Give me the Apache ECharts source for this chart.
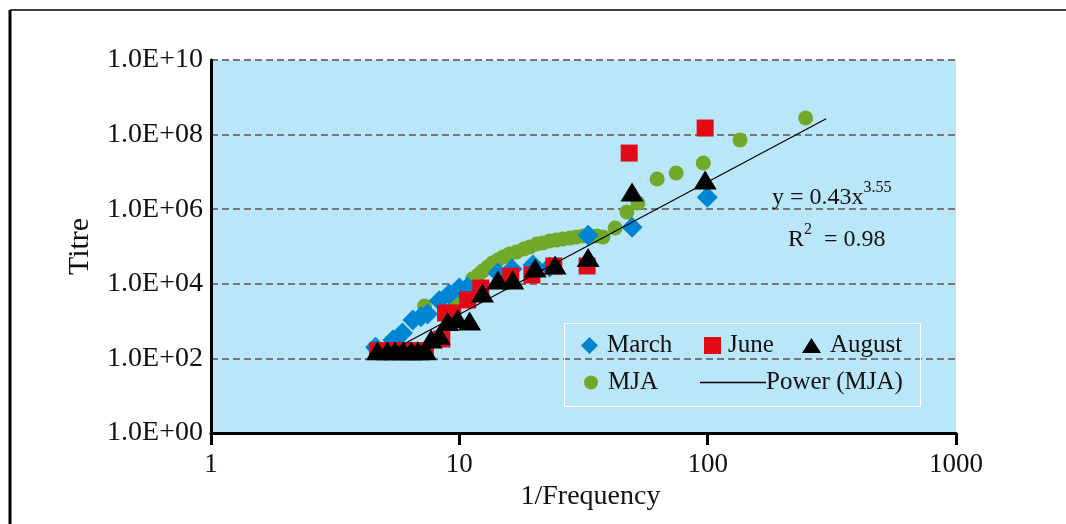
<!DOCTYPE html>
<html>
<head>
<meta charset="utf-8">
<script src="https://cdn.jsdelivr.net/npm/echarts@6/dist/echarts.min.js"></script>
<style>
  html, body { margin: 0; padding: 0; background: #ffffff; }
  #chart { width: 1066px; height: 524px; }
</style>
</head>
<body>
<div id="chart"></div>
<script>
// Titre against 1/Frequency for three sampling months and the pooled set
const marchFreq  = [4.6, 5.4, 5.9, 6.5, 7.0, 7.45, 8.3, 9.1, 10.0, 10.8, 14.3, 16.3, 19.8, 23.1, 33, 49.6, 99.6];
const marchTitre = [200, 310, 480, 1070, 1300, 1550, 3500, 5300, 7700, 8100, 19500, 25000, 32000, 28000, 200000, 330000, 2100000];

const juneFreq  = [4.68, 5.1, 5.4, 5.85, 6.3, 6.8, 7.3, 8.5, 8.8, 9.4, 10.8, 12.2, 16.1, 19.6, 24, 32.7, 48.3, 97.7];
const juneTitre = [160, 160, 160, 160, 160, 160, 160, 330, 1650, 1650, 3700, 7700, 16000, 17200, 30000, 30000, 32000000, 150000000];

const augustFreq  = [4.68, 5.13, 5.5, 5.95, 6.4, 6.8, 7.3, 7.7, 8.3, 8.97, 9.85, 11.0, 12.4, 14.3, 16.4, 20.2, 24.3, 33, 49.6, 97.7];
const augustTitre = [160, 160, 160, 160, 160, 160, 160, 330, 420, 980, 1150, 1000, 5700, 12600, 12600, 26500, 31900, 51000, 2900000, 6100000];

const mjaFreq  = [7.24, 9.6, 11.3, 11.9, 12.4, 13.0, 13.6, 14.3, 15.0, 15.9, 17.0, 18.2, 19.2, 20.5, 21.7, 23.1, 24.6, 26.1, 27.9, 29.6, 31.5, 33.6, 35.9, 37.9, 42.4, 47.3, 52.4, 62.6, 74.7, 96, 135, 248];
const mjaTitre = [2540, 3250, 13400, 17200, 22000, 28200, 36100, 43400, 52300, 63000, 71200, 85700, 97000, 117000, 124000, 140000, 149000, 159000, 169000, 180000, 191000, 191000, 191000, 180000, 313000, 841000, 1470000, 6450000, 9350000, 17300000, 71600000, 279000000];

// Power trend fitted to MJA: y = a * x^b
const fitA = 0.43;
const fitB = 3.55;
const fitR2 = 0.98;
const fitRange = [4.6, 300];

const xTicks = [1, 10, 100, 1000];
const yTickLabels = ['1.0E+00', '1.0E+02', '1.0E+04', '1.0E+06', '1.0E+08', '1.0E+10'];

const pairs = (xs, ys) => xs.map((x, i) => [x, ys[i]]);
const fitLine = fitRange.map(x => [x, fitA * Math.pow(x, fitB)]);

const SERIF = '"Liberation Serif", "DejaVu Serif", serif';
const C_BLUE = '#0085d4';
const C_RED = '#e30a17';
const C_GREEN = '#72a928';
const C_BLACK = '#000000';

const legendText = { fontFamily: SERIF, fontSize: 25, color: '#111111' };
function legendFor(name, icon, left, top, w, h, pad) {
  return {
    data: [{ name: name, icon: icon }],
    left: left, top: top,
    itemWidth: w, itemHeight: h,
    padding: 0,
    selectedMode: false,
    symbolKeepAspect: false,
    textStyle: Object.assign({ padding: [0, 0, 0, pad] }, legendText)
  };
}

const eqRich = {
  m: { fontFamily: SERIF, fontSize: 24, fill: '#111111', lineHeight: 30, verticalAlign: 'bottom' },
  s: { fontFamily: SERIF, fontSize: 16, fill: '#111111', lineHeight: 10, verticalAlign: 'top' }
};

const chart = echarts.init(document.getElementById('chart'), null, { renderer: 'canvas' });

chart.setOption({
  animation: false,
  backgroundColor: '#ffffff',
  grid: {
    left: 211, right: 110, top: 60, bottom: 91,
    show: true, backgroundColor: '#b9e6f9', borderWidth: 0
  },
  xAxis: {
    type: 'log', logBase: 10, min: 1, max: 1000, interval: 1,
    name: '1/Frequency', nameLocation: 'middle', nameGap: 42,
    nameTextStyle: { fontFamily: SERIF, fontSize: 28, color: '#111111', padding: [0, 0, 0, 14] },
    axisLine: { lineStyle: { color: C_BLACK, width: 3 } },
    axisTick: { show: true, inside: false, length: 12, lineStyle: { color: C_BLACK, width: 3 } },
    minorTick: { show: false },
    splitLine: { show: false },
    axisLabel: {
      fontFamily: SERIF, fontSize: 27, color: '#111111', margin: 18,
      formatter: v => String(xTicks.reduce((b, t) => Math.abs(t - v) < Math.abs(b - v) ? t : b, xTicks[0]))
    }
  },
  yAxis: {
    type: 'log', logBase: 10, min: 1, max: 1e10, interval: 2,
    name: 'Titre', nameLocation: 'middle', nameGap: 116, nameRotate: 90,
    nameTextStyle: { fontFamily: SERIF, fontSize: 30, color: '#111111' },
    axisLine: { lineStyle: { color: C_BLACK, width: 3 } },
    axisTick: { show: false },
    splitLine: { show: true, lineStyle: { color: '#777777', width: 2, type: [7, 4] } },
    axisLabel: {
      fontFamily: SERIF, fontSize: 28, color: '#111111', margin: 8,
      formatter: v => yTickLabels[Math.round(Math.log10(v) / 2)] || ''
    }
  },
  legend: [
    legendFor('March', 'diamond', 581, 333, 17, 17, 4),
    legendFor('June', 'rect', 704, 333, 17, 17, 2),
    legendFor('August', 'triangle', 802, 333, 19, 15, 4),
    legendFor('MJA', 'circle', 584, 370, 14, 14, 5),
    legendFor('Power (MJA)', 'path://M0,0L68,0L68,1.5L0,1.5Z', 700, 370, 66, 1.5, -5)
  ],
  graphic: [
    // page frame
    { type: 'line', shape: { x1: 10, y1: 10, x2: 1066, y2: 10 }, style: { stroke: '#000', lineWidth: 1.5 }, silent: true },
    { type: 'line', shape: { x1: 10, y1: 10, x2: 10, y2: 524 }, style: { stroke: '#000', lineWidth: 3 }, silent: true },
    // legend box
    { type: 'rect', shape: { x: 564.5, y: 323.5, width: 356, height: 83 }, style: { fill: 'none', stroke: '#ffffff', lineWidth: 1 }, silent: true, z: 5 },
    // fit equation
    {
      type: 'text', left: 772, top: 180, silent: true, z: 10,
      style: { text: '{m|y = ' + fitA.toFixed(2) + 'x}{s|' + fitB.toFixed(2) + '}', rich: eqRich }
    },
    {
      type: 'text', left: 788, top: 222, silent: true, z: 10,
      style: { text: '{m|R}{s|2}{m|  = ' + fitR2.toFixed(2) + '}', rich: eqRich }
    }
  ],
  series: [
    {
      name: 'MJA', type: 'scatter', data: pairs(mjaFreq, mjaTitre),
      symbol: 'circle', symbolSize: 15,
      itemStyle: { color: C_GREEN, opacity: 1 }
    },
    {
      name: 'March', type: 'scatter', data: pairs(marchFreq, marchTitre),
      symbol: 'diamond', symbolSize: 21,
      itemStyle: { color: C_BLUE, opacity: 1 }
    },
    {
      name: 'June', type: 'scatter', data: pairs(juneFreq, juneTitre),
      symbol: 'rect', symbolSize: 17,
      itemStyle: { color: C_RED, opacity: 1 }
    },
    {
      name: 'August', type: 'scatter', data: pairs(augustFreq, augustTitre),
      symbol: 'triangle', symbolSize: [23, 19],
      itemStyle: { color: C_BLACK, opacity: 1 }
    },
    {
      name: 'Power (MJA)', type: 'line', data: fitLine,
      symbol: 'none', showSymbol: false,
      lineStyle: { color: C_BLACK, width: 1.2 },
      itemStyle: { color: C_BLACK }
    }
  ]
});
</script>
</body>
</html>
